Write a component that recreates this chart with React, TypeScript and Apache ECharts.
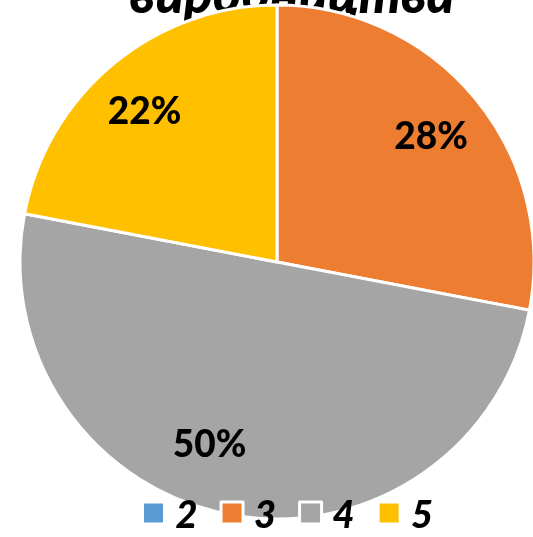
import React, { useEffect, useRef } from "react";
import * as echarts from "echarts";

const categories = ["2", "3", "4", "5"];
const values = [0, 28, 50, 22];
const colors = ["#5B9BD5", "#ED7D31", "#A5A5A5", "#FFC000"];
const titleText = "виробництва";

export default function App() {
  const ref = useRef<HTMLDivElement>(null);
  useEffect(() => {
    const chart = echarts.init(ref.current!, null, { renderer: "svg" });
    const data = categories.map((c, i) => ({ name: c, value: values[i], itemStyle: { color: colors[i] } }));
    chart.setOption({
      animation: false,
      graphic: [
        {
          type: "text",
          x: 292,
          y: -34,
          style: {
            text: titleText,
            textAlign: "center",
            textVerticalAlign: "top",
            font: "italic 900 53px Lato, 'Open Sans', sans-serif",
            fill: "#000",
          },
        },
      ],
      legend: {
        data: categories,
        bottom: 0,
        left: 136,
        itemWidth: 22,
        itemHeight: 22,
        itemGap: 22,
        icon: "rect",
        itemStyle: { borderColor: "#fff", borderWidth: 3 },
        textStyle: { fontSize: 38, fontWeight: 900, fontStyle: "italic", color: "#000", fontFamily: "Lato, sans-serif", padding: [0, 0, 0, 6] },
      },
      series: [
        {
          type: "pie",
          center: [277, 262],
          radius: [0, 257],
          startAngle: 90,
          clockwise: true,
          avoidLabelOverlap: false,
          label: { show: false },
          labelLine: { show: false },
          itemStyle: { borderColor: "#fff", borderWidth: 3 },
          emphasis: { disabled: true },
          data,
        },
        {
          type: "pie",
          center: [277, 262],
          radius: [137, 257],
          startAngle: 90,
          clockwise: true,
          silent: true,
          avoidLabelOverlap: false,
          itemStyle: { color: "transparent", borderWidth: 0 },
          label: {
            show: true,
            position: "inside",
            formatter: (p: any) => (p.value > 0 ? p.value + "%" : ""),
            fontSize: 37,
            fontWeight: 900,
            color: "#000",
            fontFamily: "Lato, sans-serif",
          },
          labelLine: { show: false },
          data: categories.map((c, i) => ({
            name: c,
            value: values[i],
            itemStyle: { color: "rgba(0,0,0,0)" },
            label: c === "4" ? { offset: [-30, -16] } : c === "5" ? { offset: [-5, 2] } : undefined,
          })),
          legendHoverLink: false,
        },
      ],
    });
    return () => chart.dispose();
  }, []);
  return <div ref={ref} style={{ position: "fixed", left: 0, top: 0, width: 533, height: 537 }} />;
}
